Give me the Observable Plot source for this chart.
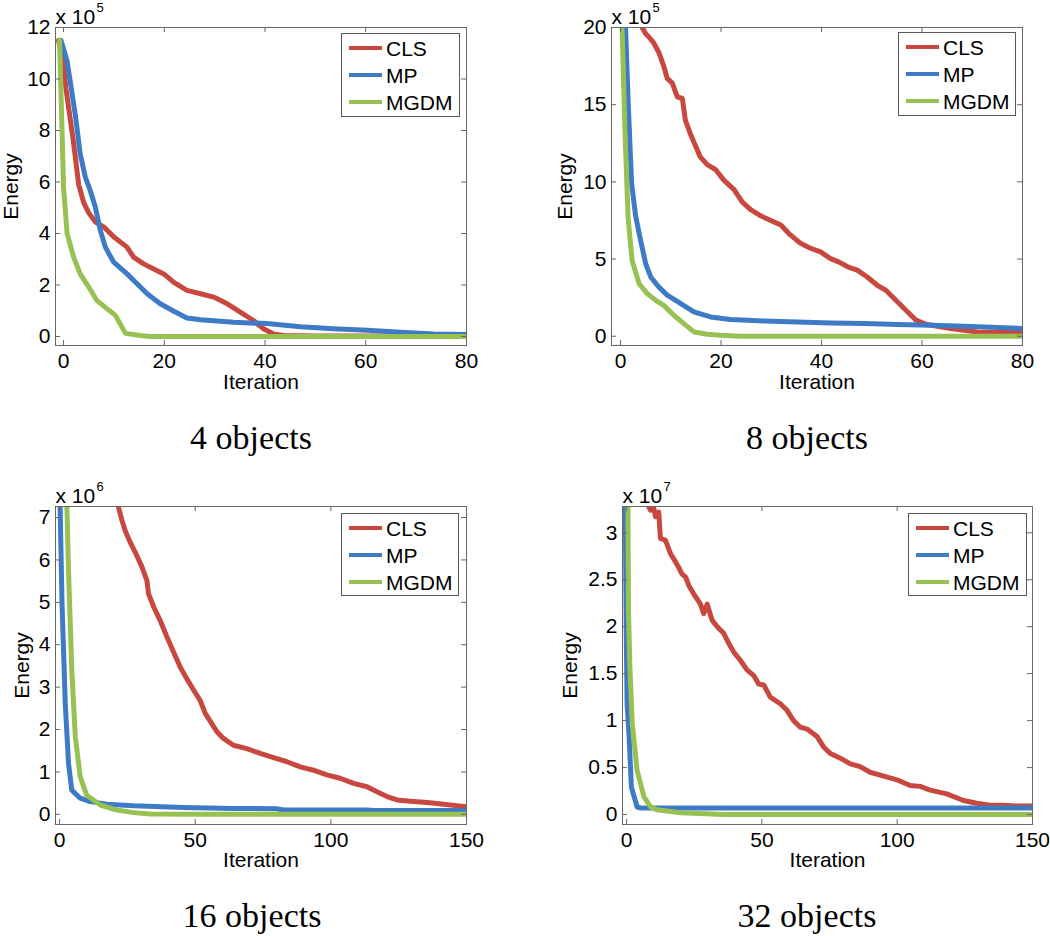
<!DOCTYPE html>
<html>
<head>
<meta charset="utf-8">
<script src="https://cdn.jsdelivr.net/npm/d3@7"></script>
<script src="https://cdn.jsdelivr.net/npm/@observablehq/plot@0.6"></script>
<style>
  html, body { margin: 0; padding: 0; background: #fff; }
  #root { position: relative; width: 1050px; height: 936px; overflow: hidden; }
  .cap { position: absolute; font-family: "Liberation Serif", "Times New Roman", serif; font-size: 34px; line-height: 34px; white-space: nowrap; transform: translateX(-50%); color: #000; }
  .leg { position: absolute; border: 1px solid #5a5a5a; background: #fff; box-sizing: border-box; font-family: "Liberation Sans", Arial, sans-serif; font-size: 21px; color: #000; }
  .leg .sw { position: absolute; left: 7px; width: 33px; height: 4px; }
  .leg .lb { position: absolute; left: 44px; line-height: 21px; }
</style>
</head>
<body>
<div id="root"></div>
<script>
// ---- series names & colours ----
const seriesNames = ["CLS", "MP", "MGDM"];
const seriesColors = ["#c8483f", "#3e7bc6", "#98c153"];

// ---- captions ----
const captions = ["4 objects", "8 objects", "16 objects", "32 objects"];
const exponents = ["5", "5", "6", "7"];

// ---- tick values ----
const p1XTicks = [0, 20, 40, 60, 80];
const p1YTicks = [0, 2, 4, 6, 8, 10, 12];
const p2XTicks = [0, 20, 40, 60, 80];
const p2YTicks = [0, 5, 10, 15, 20];
const p3XTicks = [0, 50, 100, 150];
const p3YTicks = [0, 1, 2, 3, 4, 5, 6, 7];
const p4XTicks = [0, 50, 100, 150];
const p4YTicks = [0, 0.5, 1, 1.5, 2, 2.5, 3];

// ---- Panel 1: 4 objects (energy x 10^5) [iteration, energy] ----
const p1CLS = [[-1,11.5],[0,10.5],[0.5,9.6],[1,8.9],[2,7.5],[3,5.9],[4,5.2],[5,4.8],[6.3,4.45],[8,4.25],[10,3.86],[12.6,3.47],[13.9,3.08],[15.9,2.82],[18.5,2.56],[19.9,2.43],[21.9,2.1],[24.5,1.79],[27.2,1.66],[29.8,1.53],[32.5,1.27],[35.1,0.95],[37.7,0.62],[39.7,0.3],[41.7,0.1],[43.7,0.04],[50,0.02],[80,0.02]];
const p1MP = [[-0.5,11.5],[0.7,10.7],[2.3,8.65],[3.3,7.1],[4.3,6.2],[5.3,5.67],[6.3,5.03],[7.3,4.12],[8.3,3.47],[9.9,2.9],[12.6,2.43],[14.6,2.05],[16.6,1.66],[19.2,1.27],[21.9,0.98],[24.5,0.72],[27.2,0.65],[33.8,0.55],[40.4,0.5],[47,0.38],[53.6,0.3],[60.3,0.24],[66.9,0.16],[73.5,0.1],[80,0.08]];
const p1MGDM = [[-0.8,11.5],[-0.3,8],[0,5.8],[0.7,4.0],[2,3.08],[3.3,2.43],[5,1.92],[6.6,1.4],[8.6,1.08],[10.3,0.82],[12.3,0.12],[15.2,0.04],[17.2,0],[80,0]];

// ---- Panel 2: 8 objects (energy x 10^5) ----
const p2CLS = [[4,24],[4.3,20],[5,19.6],[5.6,19.4],[6.6,19.0],[7.6,18.4],[8.6,17.5],[9.3,16.7],[10.3,16.4],[11.3,15.5],[12.3,15.4],[12.9,14.0],[13.9,13.1],[15.9,11.6],[17.3,11.1],[18.9,10.8],[20.6,10.1],[22.6,9.5],[24.2,8.7],[25.9,8.2],[27.9,7.8],[29.9,7.5],[31.9,7.2],[33.5,6.65],[35.9,6.0],[37.8,5.7],[39.8,5.46],[41.8,5.03],[43.5,4.8],[45.2,4.5],[47.1,4.28],[49.1,3.84],[51.1,3.3],[52.8,2.98],[54.8,2.33],[56.8,1.68],[58.8,1.04],[60.8,0.78],[63.1,0.65],[65.7,0.5],[68.4,0.39],[71,0.28],[75,0.24],[80,0.24]];
const p2MP = [[0.8,24],[1,20],[1.5,15.3],[2.2,9.9],[3,7.8],[3.7,6.65],[5,4.7],[6,3.84],[7.6,3.2],[9.3,2.66],[12,2.12],[14.6,1.58],[17.9,1.25],[21.9,1.08],[28.6,0.99],[35.2,0.93],[41.8,0.86],[48.5,0.82],[55.1,0.76],[61.8,0.71],[68.4,0.65],[75,0.56],[80,0.5]];
const p2MGDM = [[-0.2,24],[0.3,20],[0.9,13.1],[1.5,7.7],[2.3,4.9],[3.7,3.4],[5.3,2.76],[7,2.33],[8.6,2.0],[10.6,1.36],[12.6,0.82],[14.6,0.28],[17.3,0.13],[19.9,0.06],[23.9,0],[80,0]];

// ---- Panel 3: 16 objects (energy x 10^6) ----
const p3CLS = [[21,7.6],[21.7,7.25],[23,6.93],[24.2,6.69],[26,6.42],[28.5,6.1],[30.4,5.83],[32.2,5.51],[32.8,5.2],[34.7,4.89],[37.1,4.57],[39.6,4.18],[42,3.83],[44.5,3.47],[46.9,3.2],[49.4,2.93],[51.8,2.69],[53.7,2.38],[56.1,2.14],[58,1.95],[60.4,1.79],[64.1,1.63],[69,1.55],[74,1.44],[78.9,1.34],[83.8,1.24],[88.7,1.12],[93.6,1.04],[98.5,0.93],[103.4,0.85],[108.4,0.73],[113.3,0.65],[117,0.53],[120.7,0.42],[124.4,0.34],[129.3,0.31],[135.5,0.28],[141.6,0.24],[146.6,0.2],[150,0.18]];
const p3MP = [[0,7.6],[0.2,7.25],[0.9,4.97],[2.1,2.61],[3.3,1.2],[4.5,0.57],[7.6,0.38],[11.3,0.3],[17.5,0.24],[27.3,0.2],[45.7,0.16],[64.2,0.14],[80,0.13],[82.6,0.1],[113.4,0.1],[115.9,0.09],[150,0.09]];
const p3MGDM = [[2.5,7.6],[2.7,7.25],[3.3,5.75],[4.5,3.4],[5.8,1.83],[7.6,0.89],[10,0.45],[15,0.22],[21.1,0.1],[27.3,0.04],[33.4,0.01],[52,0],[150,0]];

// ---- Panel 4: 32 objects (energy x 10^7) ----
const p4CLS = [[8,3.4],[8.2,3.28],[8.9,3.24],[10.1,3.26],[10.7,3.17],[11.9,3.22],[12.5,2.94],[14.4,2.92],[16.2,2.78],[18.1,2.69],[19.3,2.63],[20.5,2.56],[21.8,2.53],[23,2.44],[24.8,2.35],[27.3,2.24],[28.5,2.14],[29.8,2.24],[31.6,2.07],[33.5,2.0],[35.9,1.93],[37.8,1.82],[39.6,1.73],[42.1,1.64],[44.5,1.54],[47,1.48],[48.8,1.39],[50.7,1.38],[53.1,1.25],[56.8,1.18],[59.3,1.11],[61.7,1.0],[64.2,0.93],[66.7,0.91],[70.4,0.83],[72.8,0.72],[75.3,0.65],[79,0.6],[82.7,0.54],[86.3,0.51],[90,0.45],[95,0.41],[99.9,0.37],[104.8,0.31],[108.5,0.3],[112.2,0.26],[118.3,0.22],[124.5,0.15],[129.4,0.12],[134.3,0.1],[139.2,0.1],[144,0.09],[150,0.09]];
const p4MP = [[-0.5,3.4],[-0.1,1.9],[0.2,1.18],[0.9,0.85],[1.8,0.29],[3.9,0.08],[5.2,0.07],[150,0.07]];
const p4MGDM = [[0.5,3.4],[0.7,2.2],[1.2,1.6],[2.1,0.97],[3.9,0.47],[6.4,0.19],[8.9,0.08],[11.3,0.05],[20,0.02],[36,0],[150,0]];

const FRAME = "#666666";
const FS = 21;
const root = document.getElementById("root");

function panel(cfg) {
  const {left, top, width, height, ml, mr, mt, mb, xdom, ydom, xticks, yticks, series, exp, ylabDx, xlabDy, legend} = cfg;
  const fw = width - ml - mr, fh = height - mt - mb;
  const TL = 5;
  const lineMarks = series.map((s, i) => Plot.line(s, {x: d => d[0], y: d => d[1], stroke: seriesColors[i], strokeWidth: 5, clip: true}));
  const svg = Plot.plot({
    width, height,
    marginLeft: ml, marginRight: mr, marginTop: mt, marginBottom: mb,
    style: {fontFamily: "'Liberation Sans', Arial, sans-serif", fontSize: FS + "px", color: "#000", background: "transparent", overflow: "visible"},
    x: {domain: xdom},
    y: {domain: ydom},
    marks: [
      ...lineMarks,
      Plot.frame({stroke: FRAME, strokeWidth: 1}),
      Plot.tickX(xticks, {x: d => d, insetTop: fh - TL, stroke: FRAME}),
      Plot.tickX(xticks, {x: d => d, insetBottom: fh - TL, stroke: FRAME}),
      Plot.tickY(yticks, {y: d => d, insetRight: fw - TL, stroke: FRAME}),
      Plot.tickY(yticks, {y: d => d, insetLeft: fw - TL, stroke: FRAME}),
      Plot.axisX({ticks: xticks, tickSize: 0, tickPadding: 8, label: null, tickFormat: d => String(d), fontSize: FS}),
      Plot.axisY({ticks: yticks, tickSize: 0, tickPadding: 5, label: null, tickFormat: d => String(d), fontSize: FS}),
      Plot.text(["Iteration"], {frameAnchor: "bottom", textAnchor: "middle", lineAnchor: "middle", dy: xlabDy, fontSize: FS, fill: "#000"}),
      Plot.text(["Energy"], {frameAnchor: "left", textAnchor: "middle", lineAnchor: "middle", rotate: -90, dx: ylabDx, fontSize: FS, fill: "#000"}),
      Plot.text(["x 10"], {frameAnchor: "top-left", textAnchor: "start", lineAnchor: "bottom", dy: -4, fontSize: FS, fill: "#000"}),
      Plot.text([exp], {frameAnchor: "top-left", textAnchor: "start", lineAnchor: "bottom", dx: 41, dy: -16, fontSize: 13, fill: "#000"})
    ]
  });
  svg.style.position = "absolute";
  svg.style.left = left + "px";
  svg.style.top = top + "px";
  root.appendChild(svg);

  // legend box
  const lg = document.createElement("div");
  lg.className = "leg";
  lg.style.left = legend.x + "px";
  lg.style.top = legend.y + "px";
  lg.style.width = legend.w + "px";
  lg.style.height = legend.h + "px";
  const rows = [15, 42, 69];
  seriesNames.forEach((n, i) => {
    const sw = document.createElement("div");
    sw.className = "sw";
    sw.style.top = (rows[i] - 2 - 1) + "px";
    sw.style.background = seriesColors[i];
    lg.appendChild(sw);
    const lb = document.createElement("div");
    lb.className = "lb";
    lb.style.top = (rows[i] - 10.5 - 1) + "px";
    lb.textContent = n;
    lg.appendChild(lb);
  });
  root.appendChild(lg);
}

panel({left: 0, top: 0, width: 480, height: 400, ml: 55, mr: 14, mt: 27, mb: 55,
  xdom: [-1.6, 80], ydom: [-0.35, 12], xticks: p1XTicks, yticks: p1YTicks,
  series: [p1CLS, p1MP, p1MGDM], exp: exponents[0], ylabDx: -44, xlabDy: 37,
  legend: {x: 341, y: 33, w: 119, h: 84}});
panel({left: 530, top: 0, width: 520, height: 400, ml: 81, mr: 28, mt: 27, mb: 55,
  xdom: [-1.8, 80], ydom: [-0.6, 20], xticks: p2XTicks, yticks: p2YTicks,
  series: [p2CLS, p2MP, p2MGDM], exp: exponents[1], ylabDx: -46, xlabDy: 37,
  legend: {x: 898, y: 32, w: 118, h: 84}});
panel({left: 0, top: 470, width: 480, height: 400, ml: 55, mr: 14, mt: 36, mb: 46,
  xdom: [-1.5, 150], ydom: [-0.24, 7.26], xticks: p3XTicks, yticks: p3YTicks,
  series: [p3CLS, p3MP, p3MGDM], exp: exponents[2], ylabDx: -33, xlabDy: 36,
  legend: {x: 341, y: 513, w: 118, h: 83}});
panel({left: 530, top: 470, width: 520, height: 400, ml: 92, mr: 18, mt: 36, mb: 46,
  xdom: [-1.5, 150], ydom: [-0.106, 3.28], xticks: p4XTicks, yticks: p4YTicks,
  series: [p4CLS, p4MP, p4MGDM], exp: exponents[3], ylabDx: -52, xlabDy: 36,
  legend: {x: 908, y: 513, w: 119, h: 83}});

// captions
const capPos = [[251, 421], [807, 421], [252, 899], [807, 899]];
captions.forEach((c, i) => {
  const d = document.createElement("div");
  d.className = "cap";
  d.style.left = capPos[i][0] + "px";
  d.style.top = capPos[i][1] + "px";
  d.textContent = c;
  root.appendChild(d);
});
</script>
</body>
</html>
